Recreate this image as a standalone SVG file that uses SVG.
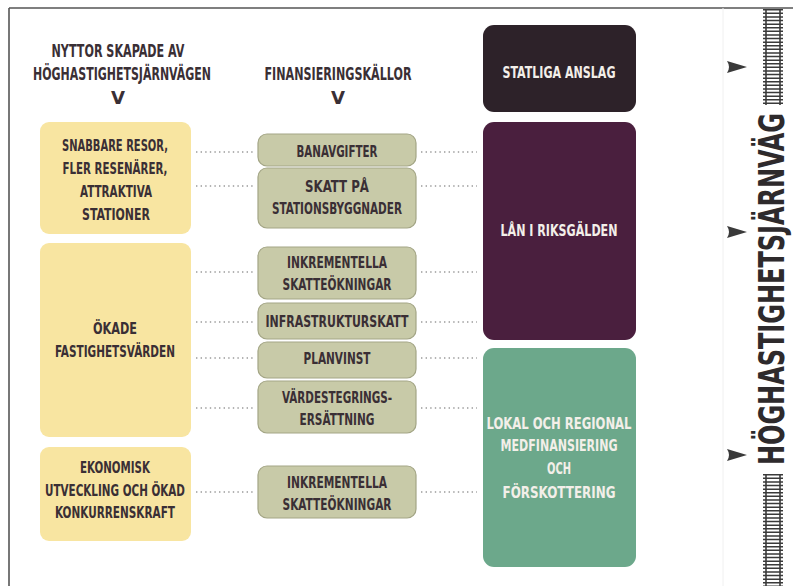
<svg xmlns="http://www.w3.org/2000/svg" width="793" height="586" viewBox="0 0 793 586">
<style>
text{font-family:"Liberation Sans Narrow","DejaVu Sans Condensed","Liberation Sans",Arial,sans-serif;font-weight:bold;text-anchor:middle;}
.d{fill:#3a2f35;font-size:16.5px;}
.h{fill:#3a2f35;font-size:18px;}
.w{fill:#f3efe9;font-size:16.5px;}
.y{fill:#f8e5a1;}
.g{fill:#c8caa8;stroke:#a3a585;stroke-width:1.2;}
.dot{stroke:#9a9a9a;stroke-width:1.6;stroke-dasharray:1.4 3.2;fill:none;}
.rail{stroke:#3a3a3a;stroke-width:1.6;}
.tie{stroke:#3a3a3a;stroke-width:20;stroke-dasharray:1.5 2.1;}
.arr{fill:#3a3a3a;}
</style>
<rect x="0" y="0" width="793" height="586" fill="#ffffff"/>
<g id="frame">
<line x1="9" y1="8" x2="9" y2="586" stroke="#555" stroke-width="1.6"/>
<line x1="9" y1="8" x2="793" y2="8" stroke="#555" stroke-width="1.6"/>
<line x1="723" y1="8" x2="723" y2="586" stroke="#f0f0f0" stroke-width="1"/>
</g>
<g id="headers">
<text class="h" x="118" y="57" textLength="133" lengthAdjust="spacingAndGlyphs">NYTTOR SKAPADE AV</text>
<text class="h" x="122" y="80" textLength="178" lengthAdjust="spacingAndGlyphs">HÖGHASTIGHETSJÄRNVÄGEN</text>
<text class="h" x="338" y="80" textLength="147" lengthAdjust="spacingAndGlyphs">FINANSIERINGSKÄLLOR</text>
<text class="h" x="118" y="104" textLength="14" lengthAdjust="spacingAndGlyphs">V</text>
<text class="h" x="338" y="104" textLength="14" lengthAdjust="spacingAndGlyphs">V</text>
</g>
<g id="connectors">
<line class="dot" x1="196" y1="152" x2="254" y2="152"/>
<line class="dot" x1="196" y1="186" x2="254" y2="186"/>
<line class="dot" x1="196" y1="272" x2="254" y2="272"/>
<line class="dot" x1="196" y1="322" x2="254" y2="322"/>
<line class="dot" x1="196" y1="358" x2="254" y2="358"/>
<line class="dot" x1="196" y1="408" x2="254" y2="408"/>
<line class="dot" x1="196" y1="492" x2="254" y2="492"/>
<line class="dot" x1="421" y1="152" x2="477" y2="152"/>
<line class="dot" x1="421" y1="186" x2="477" y2="186"/>
<line class="dot" x1="421" y1="272" x2="477" y2="272"/>
<line class="dot" x1="421" y1="322" x2="477" y2="322"/>
<line class="dot" x1="421" y1="358" x2="477" y2="358"/>
<line class="dot" x1="421" y1="408" x2="477" y2="408"/>
<line class="dot" x1="421" y1="492" x2="477" y2="492"/>
</g>
<g id="benefit1">
<rect class="y" x="40" y="122" width="151" height="112" rx="9"/>
<text class="d" x="115" y="151" textLength="106" lengthAdjust="spacingAndGlyphs">SNABBARE RESOR,</text>
<text class="d" x="115" y="174" textLength="105" lengthAdjust="spacingAndGlyphs">FLER RESENÄRER,</text>
<text class="d" x="116" y="197" textLength="72" lengthAdjust="spacingAndGlyphs">ATTRAKTIVA</text>
<text class="d" x="116" y="220" textLength="68" lengthAdjust="spacingAndGlyphs">STATIONER</text>
</g>
<g id="benefit2">
<rect class="y" x="40" y="243" width="151" height="194" rx="9"/>
<text class="d" x="115" y="334" textLength="44" lengthAdjust="spacingAndGlyphs">ÖKADE</text>
<text class="d" x="115" y="357" textLength="120" lengthAdjust="spacingAndGlyphs">FASTIGHETSVÄRDEN</text>
</g>
<g id="benefit3">
<rect class="y" x="40" y="447" width="151" height="94" rx="9"/>
<text class="d" x="115" y="473" textLength="70" lengthAdjust="spacingAndGlyphs">EKONOMISK</text>
<text class="d" x="115" y="496" textLength="140" lengthAdjust="spacingAndGlyphs">UTVECKLING OCH ÖKAD</text>
<text class="d" x="115" y="518" textLength="120" lengthAdjust="spacingAndGlyphs">KONKURRENSKRAFT</text>
</g>
<g id="src-banavgifter">
<rect class="g" x="258" y="134" width="158" height="32" rx="9"/>
<text class="d" x="337" y="157" textLength="81" lengthAdjust="spacingAndGlyphs">BANAVGIFTER</text>
</g>
<g id="src-skatt">
<rect class="g" x="258" y="168" width="158" height="60" rx="9"/>
<text class="d" x="337" y="192" textLength="64" lengthAdjust="spacingAndGlyphs">SKATT PÅ</text>
<text class="d" x="337" y="214" textLength="130" lengthAdjust="spacingAndGlyphs">STATIONSBYGGNADER</text>
</g>
<g id="src-inkr1">
<rect class="g" x="258" y="247" width="158" height="52" rx="9"/>
<text class="d" x="337" y="268" textLength="100" lengthAdjust="spacingAndGlyphs">INKREMENTELLA</text>
<text class="d" x="337" y="290" textLength="109" lengthAdjust="spacingAndGlyphs">SKATTEÖKNINGAR</text>
</g>
<g id="src-infra">
<rect class="g" x="258" y="303" width="158" height="36" rx="9"/>
<text class="d" x="337" y="327" textLength="143" lengthAdjust="spacingAndGlyphs">INFRASTRUKTURSKATT</text>
</g>
<g id="src-planvinst">
<rect class="g" x="258" y="342" width="158" height="36" rx="9"/>
<text class="d" x="337" y="364" textLength="67" lengthAdjust="spacingAndGlyphs">PLANVINST</text>
</g>
<g id="src-vardestegring">
<rect class="g" x="258" y="381" width="158" height="52" rx="9"/>
<text class="d" x="337" y="403" textLength="110" lengthAdjust="spacingAndGlyphs">VÄRDESTEGRINGS-</text>
<text class="d" x="337" y="425" textLength="75" lengthAdjust="spacingAndGlyphs">ERSÄTTNING</text>
</g>
<g id="src-inkr2">
<rect class="g" x="258" y="466" width="158" height="52" rx="9"/>
<text class="d" x="337" y="488" textLength="100" lengthAdjust="spacingAndGlyphs">INKREMENTELLA</text>
<text class="d" x="337" y="510" textLength="109" lengthAdjust="spacingAndGlyphs">SKATTEÖKNINGAR</text>
</g>
<g id="statliga">
<rect x="483" y="25" width="153" height="87" rx="11" fill="#2d2229"/>
<text class="w" x="559" y="78" textLength="113" lengthAdjust="spacingAndGlyphs">STATLIGA ANSLAG</text>
</g>
<g id="lan">
<rect x="483" y="122" width="153" height="218" rx="11" fill="#4a1f3e"/>
<text class="w" x="559" y="236" textLength="117" lengthAdjust="spacingAndGlyphs">LÅN I RIKSGÄLDEN</text>
</g>
<g id="lokal">
<rect x="483" y="348" width="153" height="219" rx="11" fill="#6ca88b"/>
<text class="w" x="559" y="429" textLength="145" lengthAdjust="spacingAndGlyphs">LOKAL OCH REGIONAL</text>
<text class="w" x="559" y="451" textLength="117" lengthAdjust="spacingAndGlyphs">MEDFINANSIERING</text>
<text class="w" x="559" y="474" textLength="24" lengthAdjust="spacingAndGlyphs">OCH</text>
<text class="w" x="559" y="498" textLength="113" lengthAdjust="spacingAndGlyphs">FÖRSKOTTERING</text>
</g>
<g id="railway">
<line class="tie" x1="773" y1="9" x2="773" y2="105"/>
<line class="rail" x1="766" y1="9" x2="766" y2="105"/>
<line class="rail" x1="780" y1="9" x2="780" y2="105"/>
<line class="tie" x1="773" y1="474" x2="773" y2="586"/>
<line class="rail" x1="766" y1="474" x2="766" y2="586"/>
<line class="rail" x1="780" y1="474" x2="780" y2="586"/>
<text transform="translate(784,289) rotate(-90)" fill="#2e2a2c" font-size="35" textLength="352" lengthAdjust="spacingAndGlyphs">HÖGHASTIGHETSJÄRNVÄG</text>
<path class="arr" d="M727,61 L747,67 L727,73 Q731,67 727,61 Z"/>
<path class="arr" d="M727,226 L747,232 L727,238 Q731,232 727,226 Z"/>
<path class="arr" d="M727,449 L747,455 L727,461 Q731,455 727,449 Z"/>
</g>
</svg>
